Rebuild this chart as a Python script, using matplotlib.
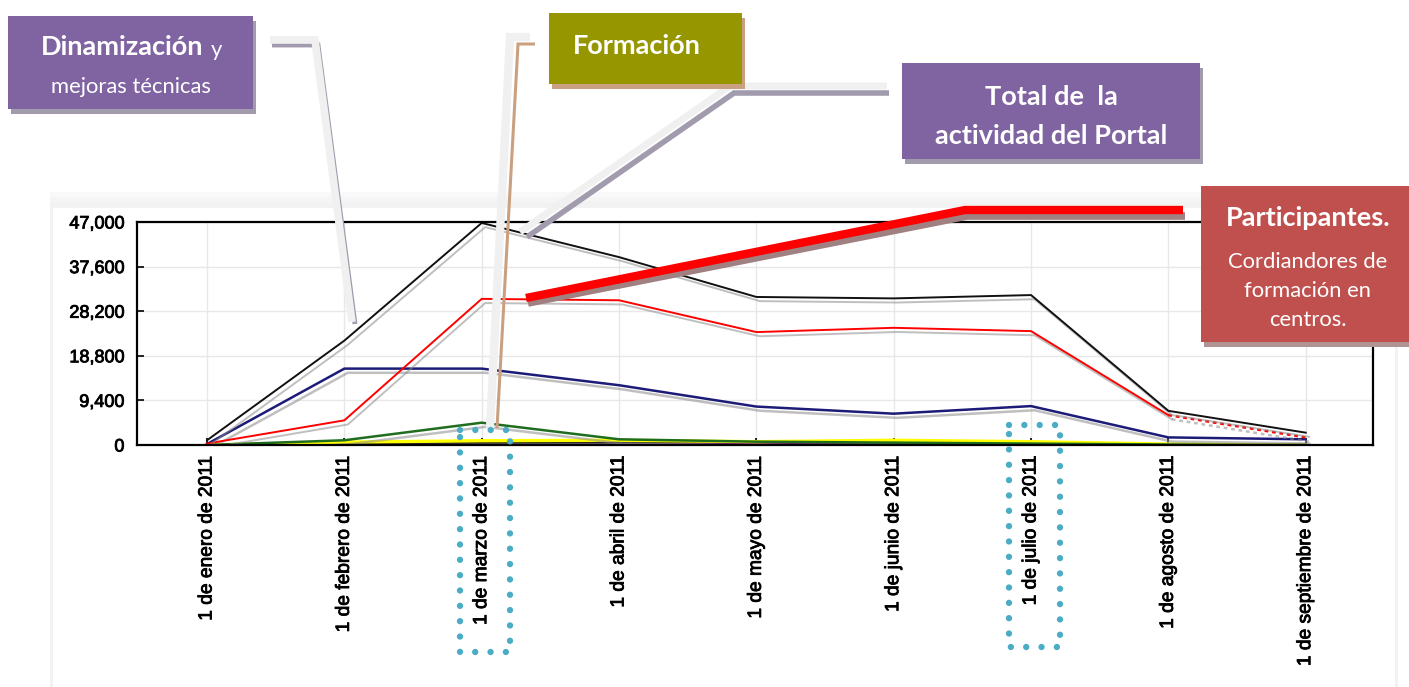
import matplotlib

matplotlib.use("Agg")
import matplotlib.pyplot as plt
import matplotlib.patheffects as pe
from matplotlib.lines import Line2D
from matplotlib.patches import Rectangle

W, H = 1409, 687

meses = [
    "1 de enero de 2011", "1 de febrero de 2011", "1 de marzo de 2011",
    "1 de abril de 2011", "1 de mayo de 2011", "1 de junio de 2011",
    "1 de julio de 2011", "1 de agosto de 2011", "1 de septiembre de 2011",
]
y_ticks = [0, 9400, 18800, 28200, 37600, 47000]
y_labels = ["0", "9,400", "18,800", "28,200", "37,600", "47,000"]

total = [1000, 22000, 46800, 39600, 31200, 30900, 31600, 7200, 2600]
participantes = [300, 5200, 30800, 30500, 23800, 24700, 24000, 6300, 1600]
dinamizacion = [200, 16100, 16100, 12600, 8100, 6600, 8200, 1600, 1200]
formacion = [0, 1000, 4700, 1200, 700, 500, 300, 100, 0]
otros_amarillo = [0, 600, 900, 1000, 700, 1000, 700, 200, 0]
otros_negro = [0, 300, 400, 600, 700, 600, 500, 100, 0]
otros_morado = [0, 0, 100, 200, 300, 100, 300, 0, 0]


def fx(x):
    return x / W


def fy(y):
    return 1 - y / H


shadow = [pe.SimpleLineShadow(offset=(2.5, -3), shadow_color="#8c8c8c", alpha=0.55), pe.Normal()]
heavy = [pe.withStroke(linewidth=0.6, foreground="black")]

fig = plt.figure(figsize=(W / 100, H / 100), dpi=100)

# panel de fondo, con una sombra muy suave
for i, c in enumerate(["#f9f9f9", "#f5f5f5", "#f2f2f2"]):
    y0 = 192 + i * 5
    fig.add_artist(Rectangle((fx(50), 0), fx(1398) - fx(50), fy(y0), transform=fig.transFigure,
                             facecolor=c, edgecolor="none", zorder=-3 + i * 0.1))
fig.add_artist(Rectangle((fx(53), 0), fx(1395) - fx(53), fy(208), transform=fig.transFigure,
                         facecolor="white", edgecolor="none", zorder=-1))

ax = fig.add_axes([fx(137), fy(445), fx(1373) - fx(137), fy(222) - fy(445)])
x = list(range(len(meses)))

ax.plot(x, otros_morado, color="#7a1a7a", lw=1.8, path_effects=shadow)
ax.plot(x, otros_negro, color="#1a1a1a", lw=1.8, path_effects=shadow)
ax.plot(x, otros_amarillo, color="#ffff00", lw=2.4, path_effects=shadow)
ax.plot(x, formacion, color="#1f6e1f", lw=1.8, path_effects=shadow)
ax.plot(x, dinamizacion, color="#1c1c78", lw=1.8, path_effects=shadow)
ax.plot(x[:8], participantes[:8], color="#ff0000", lw=1.4, path_effects=shadow)
ax.plot(x[7:], participantes[7:], color="#ff0000", lw=1.8, ls=(0, (1.5, 1.5)), path_effects=shadow)
ax.plot(x, total, color="#111111", lw=1.4, path_effects=shadow)

ax.set_xlim(-0.51, 8.49)
ax.set_ylim(0, 47000)
ax.set_xticks(x)
ax.set_xticklabels(meses, rotation=90, fontsize=13.8, family="Liberation Sans")
ax.set_yticks(y_ticks)
ax.set_yticklabels(y_labels, fontsize=13, family="Liberation Sans")
for t in ax.get_xticklabels() + ax.get_yticklabels():
    t.set_path_effects(heavy)
ax.tick_params(direction="in", length=5, width=1.2, color="black")
ax.tick_params(axis="x", pad=8)
ax.tick_params(axis="y", pad=9)
ax.grid(color="#e8e8e8", lw=1)
ax.set_axisbelow(True)
for s in ax.spines.values():
    s.set_linewidth(1.6)


def box(x0, y0, x1, y1, color, shadow_color, dx=3, dy=5):
    fig.add_artist(Rectangle((fx(x0 + dx), fy(y1 + dy)), fx(x1 - x0), fy(y0) - fy(y1),
                             transform=fig.transFigure, facecolor=shadow_color,
                             edgecolor="none", zorder=6))
    fig.add_artist(Rectangle((fx(x0), fy(y1)), fx(x1 - x0), fy(y0) - fy(y1),
                             transform=fig.transFigure, facecolor=color,
                             edgecolor="none", zorder=7))


def line(xs, ys, color, lw, z=5, **kw):
    fig.add_artist(Line2D([fx(v) for v in xs], [fy(v) for v in ys], transform=fig.transFigure,
                          color=color, lw=lw, zorder=z, solid_capstyle="butt",
                          solid_joinstyle="miter", **kw))


def txt(xp, yp, s, size, bold=False, **kw):
    fig.text(fx(xp), fy(yp), s, color="white", fontsize=size, family="Lato",
             fontweight="bold" if bold else "normal", ha="center", va="center", zorder=8, **kw)


# conectores
line([272, 318, 355], [45, 45, 324], "#a29bae", 3.5)
line([270, 315, 352], [40, 40, 322], "#f0f0f0", 5.5)
line([530, 510, 490], [37, 37, 428], "#f0f0f0", 6)
line([535, 518, 497], [44, 44, 428], "#c9a080", 2.2)
line([887, 730, 520], [86, 86, 232], "#f0f0f0", 5)
line([889, 734, 527], [93, 93, 237], "#a29bae", 4)
line([528, 967, 1185], [303, 216, 216], "#a08080", 5.5)
line([526, 965, 1183], [298, 210, 210], "#ff0000", 6)

# cajas
bold_size, reg_size = 19.5, 15.8
box(8, 16, 253, 109, "#8064a2", "#a29bae")
txt(122, 47, "Dinamización", bold_size, bold=True)
fig.text(fx(211), fy(50), "y", color="white", fontsize=reg_size, family="Lato",
         ha="left", va="center", zorder=8)
txt(131, 87, "mejoras técnicas", reg_size)

box(549, 13, 742, 84, "#969600", "#c9a182", dx=3, dy=5)
txt(637, 46, "Formación", bold_size, bold=True)

box(902, 63, 1200, 159, "#8064a2", "#a29bae")
txt(1051, 97, "Total de  la", bold_size, bold=True)
txt(1051, 136, "actividad del Portal", bold_size, bold=True)

box(1201, 186, 1412, 342, "#c0504d", "#b09494", dx=3, dy=5)
txt(1308, 218, "Participantes.", bold_size, bold=True)
txt(1308, 262, "Cordiandores de", reg_size)
txt(1308, 291, "formación en", reg_size)
txt(1308, 320, "centros.", reg_size)

# recuadros punteados
for x0, x1, y0, y1 in [(460, 510, 430, 652), (1009, 1060, 425, 647)]:
    line([x0, x1, x1, x0, x0], [y0, y0, y1, y1, y0], "#4bacc6", 4.6, z=9,
         dashes=(0.001, 2.4), dash_capstyle="round")

fig.savefig("out.png", dpi=100)
